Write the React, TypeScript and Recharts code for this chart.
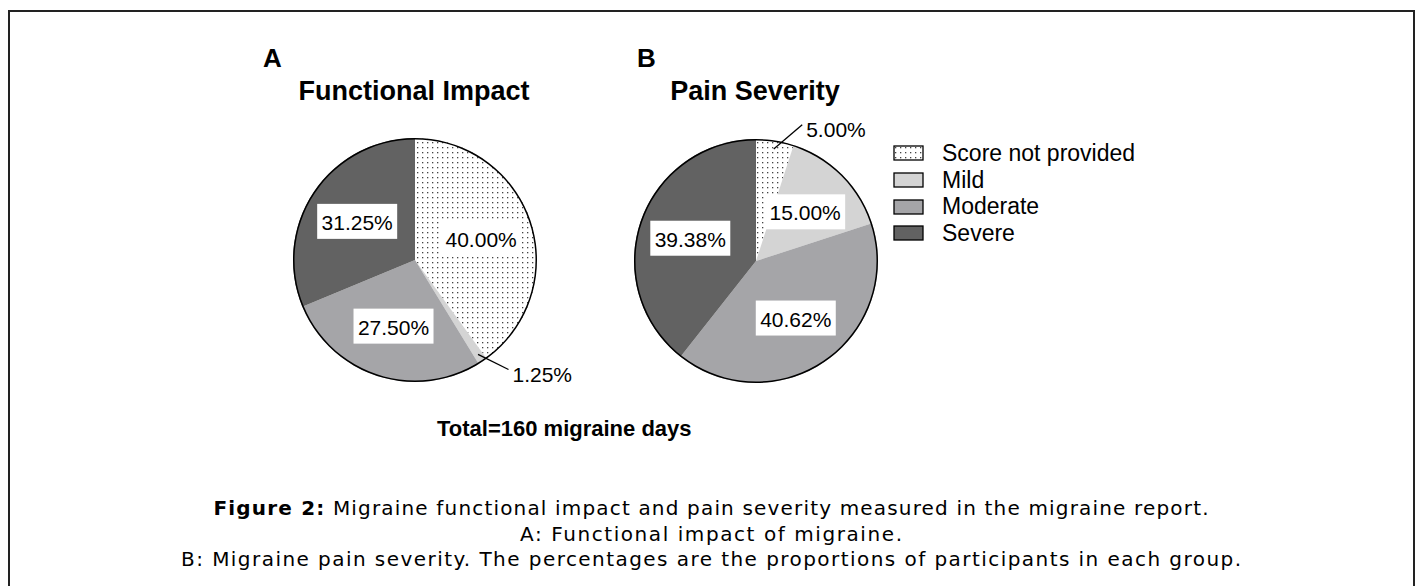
// Migraine report — two pies (functional impact / pain severity) sharing one legend

import { PieChart, Pie, Cell, Legend } from 'recharts'

// ─────────────────────────────────────────────────────────────
// Data (percent of 160 migraine days)
// ─────────────────────────────────────────────────────────────
const categories = ['Score not provided', 'Mild', 'Moderate', 'Severe']
const functionalImpact = [40.0, 1.25, 27.5, 31.25]
const painSeverity = [5.0, 15.0, 40.62, 39.38]
const totalDays = 160

const fills = ['url(#dots)', '#d4d4d4', '#a5a5a8', '#626262']

const toRows = (values: number[]) =>
  categories.map((name, i) => ({ name, value: values[i] }))

const dataA = toRows(functionalImpact)
const dataB = toRows(painSeverity)
const outlineA = [{ name: 'all', value: functionalImpact.reduce((s, v) => s + v, 0) }]
const outlineB = [{ name: 'all', value: painSeverity.reduce((s, v) => s + v, 0) }]

const FONT = '"Liberation Sans", Arial, sans-serif'
const CAPTION_FONT = '"DejaVu Sans", sans-serif'
const R = 122
const RAD = Math.PI / 180

// label: white box inside the slice, or a leader line for tiny slices
function renderLabel(props: any) {
  const { cx, cy, midAngle, outerRadius, value } = props
  const text = `${Number(value).toFixed(2)}%`
  const clock = 90 - midAngle // degrees clockwise from 12 o'clock

  if (value < 6) {
    const endClock = clock + 0.12 * (90 - clock)
    const sx = cx + outerRadius * 0.93 * Math.sin(clock * RAD)
    const sy = cy - outerRadius * 0.93 * Math.cos(clock * RAD)
    const ex = cx + outerRadius * 1.18 * Math.sin(endClock * RAD)
    const ey = cy - outerRadius * 1.18 * Math.cos(endClock * RAD)
    return (
      <g>
        <line x1={sx} y1={sy} x2={ex} y2={ey} stroke="#000" strokeWidth={1.3} />
        <text x={ex + 4} y={ey + 5} fontFamily={FONT} fontSize={21} fill="#000"
          dominantBaseline="central">{text}</text>
      </g>
    )
  }

  const r = outerRadius * 0.57
  const x = cx + r * Math.sin(clock * RAD)
  const y = cy - r * Math.cos(clock * RAD)
  return (
    <g>
      <rect x={x - 40} y={y - 17.5} width={80} height={35} fill="#fff" />
      <text x={x} y={y + 1} textAnchor="middle" dominantBaseline="central"
        fontFamily={FONT} fontSize={21} fill="#000">{text}</text>
    </g>
  )
}

function LegendContent() {
  return (
    <div style={{ fontFamily: FONT, fontSize: 23, color: '#000' }}>
      {categories.map((name, i) => (
        <div key={name} style={{ display: 'flex', alignItems: 'center', height: 26.7 }}>
          <svg width={31} height={16} style={{ marginRight: 18, flex: 'none' }}>
            <rect x={1} y={1} width={29} height={14} fill={fills[i]} stroke="#000" strokeWidth={1.3} />
          </svg>
          <span style={{ whiteSpace: 'nowrap' }}>{name}</span>
        </div>
      ))}
    </div>
  )
}

export default function App() {
  return (
    <div style={{ position: 'absolute', left: 0, top: 0, width: 1421, height: 586, background: '#fff', overflow: 'hidden' }}>
      {/* figure frame */}
      <div style={{ position: 'absolute', left: 8, top: 10, width: 1403, height: 640, border: '2px solid #222' }} />

      <div style={{ position: 'absolute', left: 0, top: 0 }}>
        <PieChart width={1421} height={586} margin={{ top: 0, right: 0, bottom: 0, left: 0 }}>
          <defs>
            <pattern id="dots" width={5} height={5} patternUnits="userSpaceOnUse">
              <rect width={5} height={5} fill="#fff" />
              <rect x={2} y={2} width={1.3} height={1.3} fill="#444" />
            </pattern>
          </defs>

          <Pie data={dataA} dataKey="value" nameKey="name" cx={415} cy={260} outerRadius={R}
            startAngle={90} endAngle={-270} stroke="none" label={renderLabel} labelLine={false}
            isAnimationActive={false}>
            {dataA.map((d, i) => <Cell key={d.name} fill={fills[i]} />)}
          </Pie>
          <Pie data={outlineA} dataKey="value" cx={415} cy={260} innerRadius={R - 1.5} outerRadius={R}
            startAngle={90} endAngle={-270} fill="#000" stroke="none" legendType="none"
            isAnimationActive={false} />

          <Pie data={dataB} dataKey="value" nameKey="name" cx={756} cy={261} outerRadius={R}
            startAngle={90} endAngle={-270} stroke="none" label={renderLabel} labelLine={false}
            isAnimationActive={false}>
            {dataB.map((d, i) => <Cell key={d.name} fill={fills[i]} />)}
          </Pie>
          <Pie data={outlineB} dataKey="value" cx={756} cy={261} innerRadius={R - 1.5} outerRadius={R}
            startAngle={90} endAngle={-270} fill="#000" stroke="none" legendType="none"
            isAnimationActive={false} />

          <Legend content={<LegendContent />} layout="vertical"
            wrapperStyle={{ position: 'absolute', left: 893, top: 140, width: 320 }} />
        </PieChart>
      </div>

      {/* titles and caption */}
      <svg width={1421} height={586} style={{ position: 'absolute', left: 0, top: 0, pointerEvents: 'none' }}>
        <g fontFamily={FONT} fontWeight="bold" fill="#000">
          <text x={263} y={67} fontSize={26}>A</text>
          <text x={414} y={100} fontSize={27} textAnchor="middle">Functional Impact</text>
          <text x={637} y={67} fontSize={26}>B</text>
          <text x={755} y={100} fontSize={27} textAnchor="middle">Pain Severity</text>
          <text x={437} y={436} fontSize={22}>{`Total=${totalDays} migraine days`}</text>
        </g>
        <g fontFamily={CAPTION_FONT} fontSize={20} fill="#000" textAnchor="middle">
          <text x={711} y={515} textLength={995} lengthAdjust="spacing">
            <tspan fontWeight="bold">Figure 2:</tspan> Migraine functional impact and pain severity measured in the migraine report.
          </text>
          <text x={711} y={541} textLength={382} lengthAdjust="spacing">A: Functional impact of migraine.</text>
          <text x={711} y={566} textLength={1060} lengthAdjust="spacing">B: Migraine pain severity. The percentages are the proportions of participants in each group.</text>
        </g>
      </svg>
    </div>
  )
}
